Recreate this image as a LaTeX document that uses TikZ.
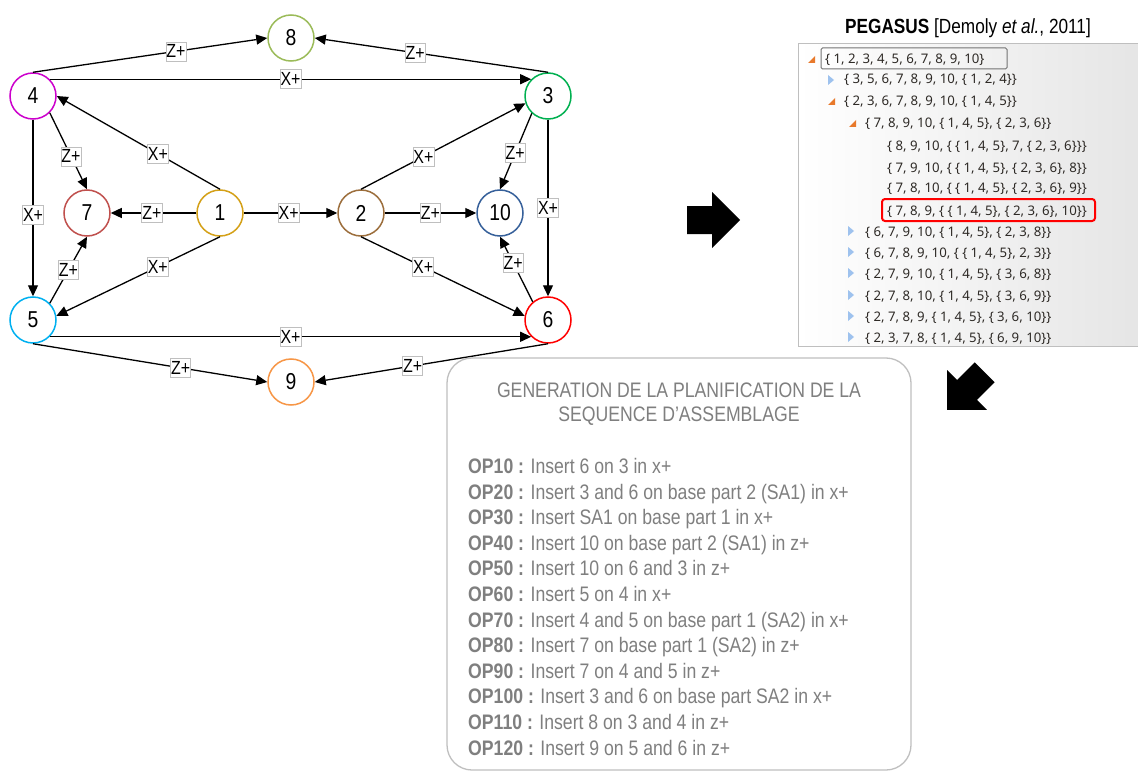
\documentclass[tikz,border=0pt]{standalone}
\usepackage{fontspec}
\setmainfont{Liberation Sans}
\newfontfamily\nf{Liberation Sans}[FakeStretch=0.84]
\newfontfamily\tf{Noto Sans}
\usetikzlibrary{arrows.meta}
\definecolor{c1}{HTML}{D4A017}
\definecolor{c2}{HTML}{9C6E3C}
\definecolor{c3}{HTML}{00B050}
\definecolor{c4}{HTML}{CC00CC}
\definecolor{c5}{HTML}{00B0F0}
\definecolor{c6}{HTML}{FF0000}
\definecolor{c7}{HTML}{C0504D}
\definecolor{c8}{HTML}{9BBB59}
\definecolor{c9}{HTML}{F79646}
\definecolor{c10}{HTML}{36609A}
\definecolor{optxt}{HTML}{7F7F7F}
\definecolor{trtxt}{HTML}{2E2A26}
\definecolor{tri}{HTML}{E8792B}
\definecolor{trb}{HTML}{9EC2EE}
\begin{document}
\begin{tikzpicture}[x=1pt,y=-1pt,
  gnode/.style={circle, draw, line width=1.5pt, minimum size=46pt, inner sep=0pt, fill=white, font=\nf\fontsize{23}{23}\selectfont},
  elab/.style={draw=black!25, fill=white, line width=0.6pt, inner xsep=0.5pt, inner ysep=3pt, font=\nf\fontsize{19}{19}\selectfont},
  conn/.style={-{Triangle[length=11pt,width=10pt]}, line width=1.3pt},
  trow/.style={anchor=base west, inner sep=0pt, font=\tf\fontsize{13.2}{13.2}\selectfont, text=trtxt},
  opline/.style={anchor=base west, inner sep=0pt, font=\nf\fontsize{21}{21}\selectfont, text=optxt},
  ttl/.style={anchor=base, inner sep=0pt, font=\nf\fontsize{21}{21}\selectfont, text=optxt}]
\fill[white] (0,0) rectangle (1138,773);
\useasboundingbox (0,0) rectangle (1138,773);

% ---------- graph nodes ----------
\node[gnode, draw=c8] (n8) at (291,38) {8};
\node[gnode, draw=c4] (n4) at (33,96) {4};
\node[gnode, draw=c3] (n3) at (548,96) {3};
\node[gnode, draw=c7] (n7) at (87,213) {7};
\node[gnode, draw=c1] (n1) at (220,213) {1};
\node[gnode, draw=c2] (n2) at (361,213) {2};
\node[gnode, draw=c10] (n10) at (500,213) {10};
\node[gnode, draw=c5] (n5) at (33,320) {5};
\node[gnode, draw=c6] (n6) at (548,320) {6};
\node[gnode, draw=c9] (n9) at (291,382) {9};

% ---------- connectors ----------
\draw[conn] (n4.north) -- node[elab, pos=0.61] (e48) {Z+} (n8.west);
\draw[conn] (n3.north) -- node[elab, pos=0.57] (e38) {Z+} (n8.east);
\draw[conn] (n4.45) -- node[elab, pos=0.5] (e43) {X+} (n3.135);
\draw[conn] (n1.north) -- node[elab, pos=0.38] (e14) {X+} (n4.east);
\draw[conn] (n4.-45) -- node[elab, pos=0.57] (e47) {Z+} (n7.north);
\draw[conn] (n4.south) -- node[elab, pos=0.54] (e45) {X+} (n5.north);
\draw[conn] (n1.west) -- node[elab, pos=0.52] (e17) {Z+} (n7.east);
\draw[conn] (n1.east) -- node[elab, pos=0.48] (e12) {X+} (n2.west);
\draw[conn] (n1.south) -- node[elab, pos=0.38] (e15) {X+} (n5.10);
\draw[conn] (n5.45) -- node[elab, pos=0.5] (e57) {Z+} (n7.south);
\draw[conn] (n5.-45) -- node[elab, pos=0.5] (e56) {X+} (n6.-135);
\draw[conn] (n5.south) -- node[elab, pos=0.63] (e59) {Z+} (n9.west);
\draw[conn] (n6.south) -- node[elab, pos=0.58] (e69) {Z+} (n9.east);
\draw[conn] (n2.north) -- node[elab, pos=0.38] (e23) {X+} (n3.198);
\draw[conn] (n3.227) -- node[elab, pos=0.52] (e310) {Z+} (n10.north);
\draw[conn] (n3.south) -- node[elab, pos=0.5] (e36) {X+} (n6.north);
\draw[conn] (n2.east) -- node[elab, pos=0.5] (e210) {Z+} (n10.west);
\draw[conn] (n2.south) -- node[elab, pos=0.38] (e26) {X+} (n6.170);
\draw[conn] (n6.130) -- node[elab, pos=0.6] (e610) {Z+} (n10.south);

% ---------- big arrows ----------
\fill[black] (687,206) -- (712,206) -- (712,192) -- (740,220) -- (712,248) -- (712,234) -- (687,234) -- cycle;
\fill[black] (994.6,382.2) -- (976.9,399.9) -- (986.8,409.8) -- (947.2,409.8) -- (947.2,370.2) -- (957.1,380.1) -- (974.8,362.4) -- cycle;

% ---------- PEGASUS panel ----------
\node[anchor=base, inner sep=0pt, font=\nf\fontsize{20.5}{20.5}\selectfont] (ptitle) at (968,34) {\textbf{PEGASUS} [Demoly \textit{et al.}, 2011]};
\shade[left color=white, right color=black!10] (798,44) rectangle (1138,346);
\draw[black!25, line width=1pt] (1138,44) -- (798,44) -- (798,346) -- (1138,346);
\draw[black!55, line width=1pt, rounded corners=1.5pt] (821,48) rectangle (1007,69);
\draw[red, line width=2pt, rounded corners=3pt] (882,199) rectangle (1095,221);

% triangles
\fill[tri] (808,63) -- (815,56) -- (815,63) -- cycle;
\fill[trb] (828,75) -- (834,80) -- (828,85) -- cycle;
\fill[tri] (828,105) -- (835,98) -- (835,105) -- cycle;
\fill[tri] (849,127) -- (856,120) -- (856,127) -- cycle;
\foreach \yy in {231,252,273,295,316,337}{
  \fill[trb] (848,\yy-5) -- (854,\yy) -- (848,\yy+5) -- cycle;
}

\node[trow] (r1) at (825,64) {\{ 1, 2, 3, 4, 5, 6, 7, 8, 9, 10\}};
\node[trow] (r2) at (844,84) {\{ 3, 5, 6, 7, 8, 9, 10, \{ 1, 2, 4\}\}};
\node[trow] (r3) at (844,106) {\{ 2, 3, 6, 7, 8, 9, 10, \{ 1, 4, 5\}\}};
\node[trow] (r4) at (865,128) {\{ 7, 8, 9, 10, \{ 1, 4, 5\}, \{ 2, 3, 6\}\}};
\node[trow] (r5) at (887,150) {\{ 8, 9, 10, \{ \{ 1, 4, 5\}, 7, \{ 2, 3, 6\}\}\}};
\node[trow] (r6) at (887,172) {\{ 7, 9, 10, \{ \{ 1, 4, 5\}, \{ 2, 3, 6\}, 8\}\}};
\node[trow] (r7) at (887,193) {\{ 7, 8, 10, \{ \{ 1, 4, 5\}, \{ 2, 3, 6\}, 9\}\}};
\node[trow] (r8) at (887,215) {\{ 7, 8, 9, \{ \{ 1, 4, 5\}, \{ 2, 3, 6\}, 10\}\}};
\node[trow] (r9) at (865,236) {\{ 6, 7, 9, 10, \{ 1, 4, 5\}, \{ 2, 3, 8\}\}};
\node[trow] (r10) at (865,257) {\{ 6, 7, 8, 9, 10, \{ \{ 1, 4, 5\}, 2, 3\}\}};
\node[trow] (r11) at (865,278) {\{ 2, 7, 9, 10, \{ 1, 4, 5\}, \{ 3, 6, 8\}\}};
\node[trow] (r12) at (865,300) {\{ 2, 7, 8, 10, \{ 1, 4, 5\}, \{ 3, 6, 9\}\}};
\node[trow] (r13) at (865,321) {\{ 2, 7, 8, 9, \{ 1, 4, 5\}, \{ 3, 6, 10\}\}};
\node[trow] (r14) at (865,342) {\{ 2, 3, 7, 8, \{ 1, 4, 5\}, \{ 6, 9, 10\}\}};

% ---------- sequence box ----------
\draw[black!25, line width=1.3pt, rounded corners=25pt] (447,358) rectangle (911,770);
\node[ttl] (t1) at (679,397) {GENERATION DE LA PLANIFICATION DE LA};
\node[ttl] (t2) at (679,421) {SEQUENCE D’ASSEMBLAGE};
\node[opline] (o1) at (468,473.5) {\textbf{OP10 :} Insert 6 on 3 in x+};
\node[opline] (o2) at (468,499.1) {\textbf{OP20 :} Insert 3 and 6 on base part 2 (SA1) in x+};
\node[opline] (o3) at (468,524.7) {\textbf{OP30 :} Insert SA1 on base part 1 in x+};
\node[opline] (o4) at (468,550.3) {\textbf{OP40 :} Insert 10 on base part 2 (SA1) in z+};
\node[opline] (o5) at (468,575.9) {\textbf{OP50 :} Insert 10 on 6 and 3 in z+};
\node[opline] (o6) at (468,601.5) {\textbf{OP60 :} Insert 5 on 4 in x+};
\node[opline] (o7) at (468,627.1) {\textbf{OP70 :} Insert 4 and 5 on base part 1 (SA2) in x+};
\node[opline] (o8) at (468,652.7) {\textbf{OP80 :} Insert 7 on base part 1 (SA2) in z+};
\node[opline] (o9) at (468,678.3) {\textbf{OP90 :} Insert 7 on 4 and 5 in z+};
\node[opline] (o10) at (468,703.9) {\textbf{OP100 :} Insert 3 and 6 on base part SA2 in x+};
\node[opline] (o11) at (468,729.5) {\textbf{OP110 :} Insert 8 on 3 and 4 in z+};
\node[opline] (o12) at (468,755.1) {\textbf{OP120 :} Insert 9 on 5 and 6 in z+};
\end{tikzpicture}
\end{document}
